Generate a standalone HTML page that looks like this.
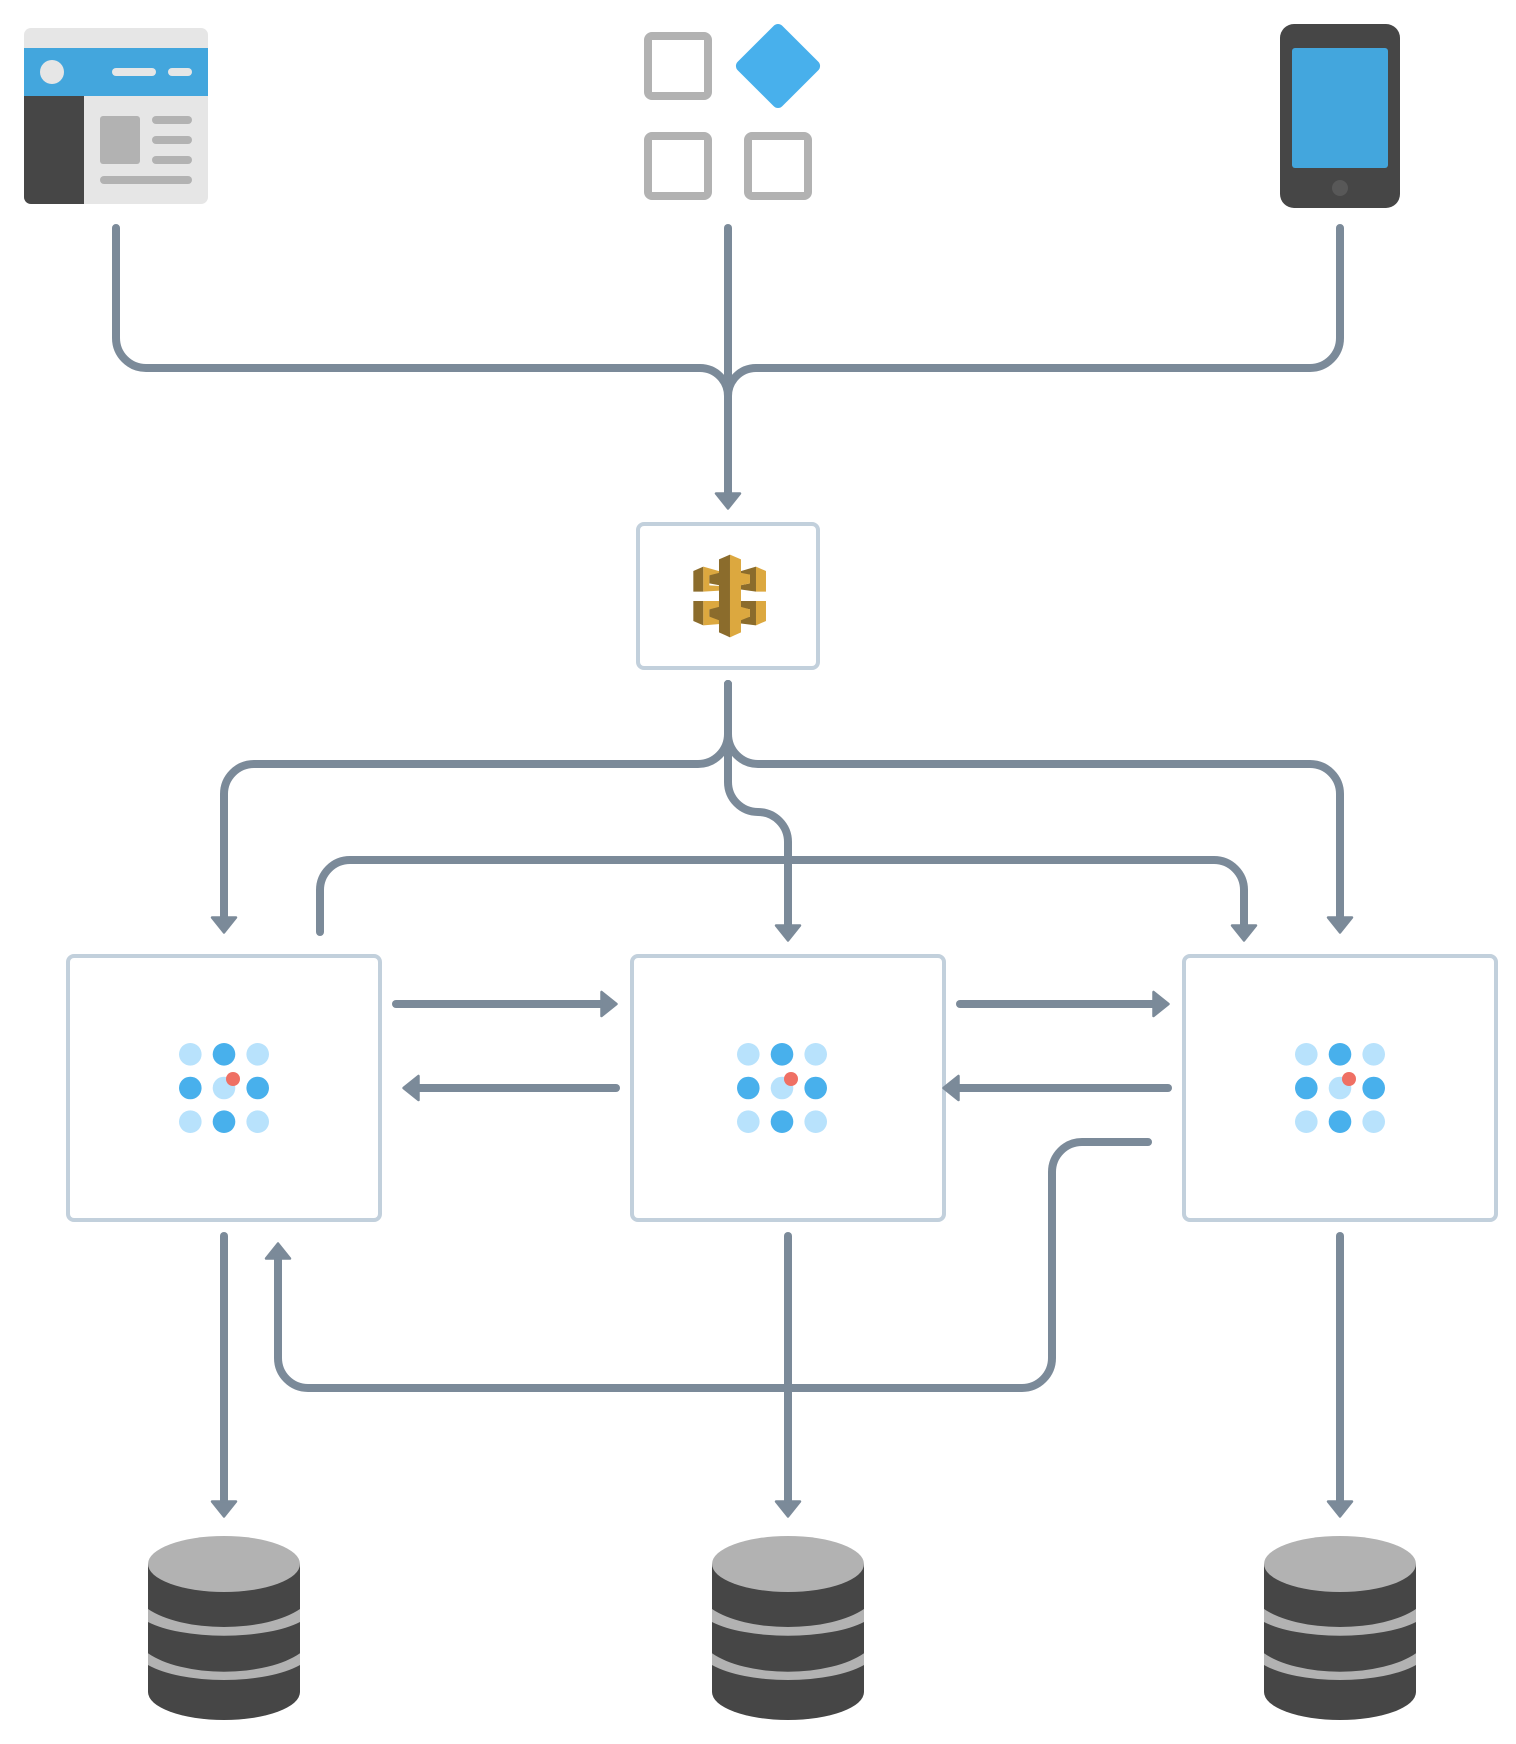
<!DOCTYPE html>
<html>
<head>
<meta charset="utf-8">
<title>Architecture diagram</title>
<style>
html,body{margin:0;padding:0;background:#fff;}
svg{display:block;}
.l{fill:none;stroke:#7b8a99;stroke-width:8;stroke-linecap:round;stroke-linejoin:round;}
.h{fill:#7b8a99;stroke:#7b8a99;stroke-width:2.5;stroke-linejoin:round;}
.box{fill:#fff;stroke:#c2d0dc;stroke-width:4;}
.sq{fill:#fff;stroke:#b2b2b2;stroke-width:8;}
.a{fill:#b8e2fc;}
.b{fill:#48b0ec;}
.r{fill:#ef7064;}
.d{fill:#8b6c2c;}
.g{fill:#dca83f;}
</style>
</head>
<body>
<svg xmlns="http://www.w3.org/2000/svg" xmlns:xlink="http://www.w3.org/1999/xlink" width="1516" height="1744" viewBox="0 0 1516 1744">
<defs>
<clipPath id="bc"><rect x="24" y="28" width="184" height="176" rx="7"/></clipPath>
<g id="dots">
<circle class="a" cx="-33.7" cy="-33.7" r="11.3"/><circle class="b" cx="0" cy="-33.7" r="11.3"/><circle class="a" cx="33.7" cy="-33.7" r="11.3"/>
<circle class="b" cx="-33.7" cy="0" r="11.3"/><circle class="a" cx="0" cy="0" r="11.3"/><circle class="b" cx="33.7" cy="0" r="11.3"/>
<circle class="a" cx="-33.7" cy="33.7" r="11.3"/><circle class="b" cx="0" cy="33.7" r="11.3"/><circle class="a" cx="33.7" cy="33.7" r="11.3"/>
<circle class="r" cx="9" cy="-9" r="7"/>
</g>
<g id="db">
<path d="M148 1564H300V1692A76 28 0 0 1 148 1692Z" fill="#464646"/>
<path fill="#b2b2b2" d="M148 1609A90 38.8 0 0 0 300 1609V1622A90 29.5 0 0 1 148 1622Z"/>
<path fill="#b2b2b2" d="M148 1653.3A90 39.6 0 0 0 300 1653.3V1665A90 32.3 0 0 1 148 1665Z"/>
<ellipse cx="224" cy="1564" rx="76" ry="28" fill="#b2b2b2"/>
</g>
</defs>

<!-- browser icon -->
<g clip-path="url(#bc)">
<rect x="24" y="28" width="184" height="176" fill="#e6e6e6"/>
<rect x="24" y="48" width="184" height="48" fill="#43a6dd"/>
<rect x="24" y="96" width="60" height="108" fill="#464646"/>
</g>
<circle cx="52" cy="72" r="12" fill="#e6e6e6"/>
<rect x="112" y="68" width="44" height="8" rx="4" fill="#e6e6e6"/>
<rect x="168" y="68" width="24" height="8" rx="4" fill="#e6e6e6"/>
<rect x="100" y="116" width="40" height="48" rx="3" fill="#b2b2b2"/>
<rect x="152" y="116" width="40" height="8" rx="4" fill="#b2b2b2"/>
<rect x="152" y="136" width="40" height="8" rx="4" fill="#b2b2b2"/>
<rect x="152" y="156" width="40" height="8" rx="4" fill="#b2b2b2"/>
<rect x="100" y="176" width="92" height="8" rx="4" fill="#b2b2b2"/>

<!-- squares icon -->
<rect class="sq" x="648" y="36" width="60" height="60" rx="4"/>
<rect class="sq" x="648" y="136" width="60" height="60" rx="4"/>
<rect class="sq" x="748" y="136" width="60" height="60" rx="4"/>
<rect x="746.5" y="34.5" width="63" height="63" rx="6" fill="#48b0ec" transform="rotate(45 778 66)"/>

<!-- tablet icon -->
<rect x="1280" y="24" width="120" height="184" rx="14" fill="#464646"/>
<rect x="1292" y="48" width="96" height="120" rx="3" fill="#43a6dd"/>
<circle cx="1340" cy="188" r="8" fill="#585858"/>

<!-- connectors top -->
<path class="l" d="M116 228V338A30 30 0 0 0 146 368H700A28 28 0 0 1 728 396"/>
<path class="l" d="M1340 228V338A30 30 0 0 1 1310 368H756A28 28 0 0 0 728 396"/>
<path class="l" d="M728 228V496"/>
<polygon class="h" points="716,493.5 740,493.5 728,508.5"/>

<!-- gateway box -->
<rect class="box" x="638" y="524" width="180" height="144" rx="6"/>
<g transform="translate(620 500) scale(0.3333)">
<polygon class="d" points="220,213 250,200 250,275 220,275"/>
<polygon class="g" points="250,200 300,214 300,226 268,226 268,256 300,258 300,272 250,275"/>
<polygon class="d" points="268,226 300,218 300,256 268,250"/>
<polygon class="g" points="438,213 408,200 408,275 438,275"/>
<polygon class="d" points="408,200 360,214 360,224 390,224 390,250 360,256 360,268 408,275"/>
<polygon class="g" points="360,218 390,224 390,250 360,256"/>
<polygon class="d" points="220,303 250,303 250,376 220,363"/>
<polygon class="g" points="250,303 300,303 300,322 268,328 268,350 300,358 300,372 250,376"/>
<polygon class="d" points="268,328 300,320 300,362 268,350"/>
<polygon class="g" points="438,303 408,303 408,376 438,363"/>
<polygon class="d" points="408,303 360,303 360,322 390,328 390,350 360,358 360,370 408,376"/>
<polygon class="g" points="360,320 390,328 390,350 360,362"/>
<polygon class="d" points="330,164 297,178 297,397 330,412"/>
<polygon class="g" points="330,164 363,178 363,397 330,412"/>
</g>

<!-- service boxes -->
<rect class="box" x="68" y="956" width="312" height="264" rx="6"/>
<rect class="box" x="632" y="956" width="312" height="264" rx="6"/>
<rect class="box" x="1184" y="956" width="312" height="264" rx="6"/>
<use xlink:href="#dots" href="#dots" x="224" y="1088"/>
<use xlink:href="#dots" href="#dots" x="782" y="1088"/>
<use xlink:href="#dots" href="#dots" x="1340" y="1088"/>

<!-- connectors gateway to services -->
<path class="l" d="M728 684V734A30 30 0 0 1 698 764H254A30 30 0 0 0 224 794V920"/>
<polygon class="h" points="212,917.5 236,917.5 224,932.5"/>
<path class="l" d="M728 684V734A30 30 0 0 0 758 764H1310A30 30 0 0 1 1340 794V920"/>
<polygon class="h" points="1328,917.5 1352,917.5 1340,932.5"/>
<path class="l" d="M728 684V782A30 30 0 0 0 758 812A30 30 0 0 1 788 842V928"/>
<polygon class="h" points="776,925.5 800,925.5 788,940.5"/>
<path class="l" d="M320 932V890A30 30 0 0 1 350 860H1214A30 30 0 0 1 1244 890V928"/>
<polygon class="h" points="1232,925.5 1256,925.5 1244,940.5"/>

<!-- horizontal arrows -->
<path class="l" d="M396 1004H604"/>
<polygon class="h" points="601.5,992 601.5,1016 616.5,1004"/>
<path class="l" d="M616 1088H416"/>
<polygon class="h" points="418.5,1076 418.5,1100 403.5,1088"/>
<path class="l" d="M960 1004H1156"/>
<polygon class="h" points="1153.5,992 1153.5,1016 1168.5,1004"/>
<path class="l" d="M1168 1088H956"/>
<polygon class="h" points="958.5,1076 958.5,1100 943.5,1088"/>

<!-- back path -->
<path class="l" d="M1148 1142H1082A30 30 0 0 0 1052 1172V1358A30 30 0 0 1 1022 1388H308A30 30 0 0 1 278 1358V1256"/>
<polygon class="h" points="266,1258.5 290,1258.5 278,1243.5"/>

<!-- down arrows to DBs -->
<path class="l" d="M224 1236V1504"/>
<polygon class="h" points="212,1501.5 236,1501.5 224,1516.5"/>
<path class="l" d="M788 1236V1504"/>
<polygon class="h" points="776,1501.5 800,1501.5 788,1516.5"/>
<path class="l" d="M1340 1236V1504"/>
<polygon class="h" points="1328,1501.5 1352,1501.5 1340,1516.5"/>

<!-- databases -->
<use xlink:href="#db" href="#db"/>
<use xlink:href="#db" href="#db" x="564"/>
<use xlink:href="#db" href="#db" x="1116"/>
</svg>
</body>
</html>
